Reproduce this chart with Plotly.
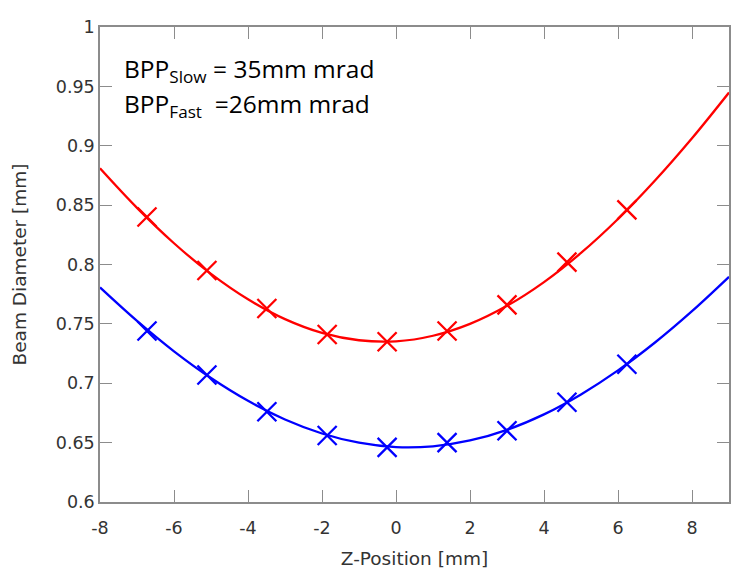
import plotly.graph_objects as go

# Measured data points (markers)
z_meas = [-6.73, -5.11, -3.49, -1.86, -0.24, 1.38, 3.0, 4.62, 6.24]
slow_meas = [0.840, 0.795, 0.763, 0.741, 0.735, 0.744, 0.766, 0.802, 0.846]
fast_meas = [0.744, 0.707, 0.676, 0.656, 0.646, 0.650, 0.660, 0.684, 0.716]

# Fitted curves, read at integer positions
z_fit = [-8, -7, -6, -5, -4, -3, -2, -1, 0, 1, 2, 3, 4, 5, 6, 7, 8, 9]
slow_fit = [0.881, 0.8477, 0.8179, 0.7921, 0.7707, 0.7540, 0.7424, 0.7362, 0.7353,
            0.7400, 0.7500, 0.7652, 0.7852, 0.8097, 0.8383, 0.8707, 0.9063, 0.9448]
fast_fit = [0.7807, 0.7525, 0.7269, 0.7044, 0.6852, 0.6695, 0.6577, 0.6499, 0.6462,
            0.6469, 0.6518, 0.6608, 0.6738, 0.6906, 0.7108, 0.7343, 0.7607, 0.7896]

x_ticks = [-8, -6, -4, -2, 0, 2, 4, 6, 8]
x_tick_text = ["-8", "-6", "-4", "-2", "0", "2", "4", "6", "8"]
y_ticks = [0.6, 0.65, 0.7, 0.75, 0.8, 0.85, 0.9, 0.95, 1.0]
y_tick_text = ["0.6", "0.65", "0.7", "0.75", "0.8", "0.85", "0.9", "0.95", "1"]

RED = "#ff0000"
BLUE = "#0000ff"

fig = go.Figure()
for fit, meas, col in [(slow_fit, slow_meas, RED), (fast_fit, fast_meas, BLUE)]:
    fig.add_trace(go.Scatter(x=z_fit, y=fit, mode="lines",
                             line=dict(color=col, width=2.3, shape="spline"),
                             showlegend=False, hoverinfo="skip"))
    fig.add_trace(go.Scatter(x=z_meas, y=meas, mode="markers",
                             marker=dict(symbol="x-thin", size=19, color=col,
                                         line=dict(color=col, width=2.3)),
                             showlegend=False))

FONT = "DejaVu Sans"
axis_common = dict(showgrid=False, zeroline=False, showline=True, linecolor="#8c8c8c",
                   linewidth=1.5, mirror="ticks", ticks="inside", ticklen=12,
                   tickcolor="#8c8c8c", tickwidth=1, automargin=False,
                   tickfont=dict(family=FONT, size=17.5, color="#333333"))

# page body has an 8px margin; figure is sized to fit the window
W, H = 741, 565
L, R, T, B = 92, 20, 19, 71

fig.update_layout(
    width=W, height=H,
    margin=dict(l=L, r=R, t=T, b=B),
    paper_bgcolor="white", plot_bgcolor="white",
    xaxis=dict(range=[-8, 9], tickvals=x_ticks, ticktext=x_tick_text, ticklabelstandoff=9,
               title=dict(text="Z-Position [mm]", standoff=15,
                          font=dict(family=FONT, size=18.5, color="#333333")),
               **axis_common),
    yaxis=dict(range=[0.6, 1.0], tickvals=y_ticks, ticktext=y_tick_text,
               title=dict(text="Beam Diameter [mm]", standoff=24,
                          font=dict(family=FONT, size=18.5, color="#333333")),
               **axis_common),
    annotations=[
        dict(text="BPP<sub>Slow</sub> = 35mm mrad", x=114, y=62, xref="paper", yref="paper",
             showarrow=False, xanchor="left", yanchor="middle",
             font=dict(family="Open Sans", size=24.5, color="black")),
        dict(text="BPP<sub>Fast</sub>  =26mm mrad", x=114, y=97, xref="paper", yref="paper",
             showarrow=False, xanchor="left", yanchor="middle",
             font=dict(family="Open Sans", size=24.5, color="black")),
    ],
)

# convert pixel positions (figure coords) of annotations to paper coordinates
pw, ph = W - L - R, H - T - B
for a in fig.layout.annotations:
    a.x = (a.x - L) / pw
    a.y = 1 - (a.y - T) / ph

fig.write_html("out.html")
